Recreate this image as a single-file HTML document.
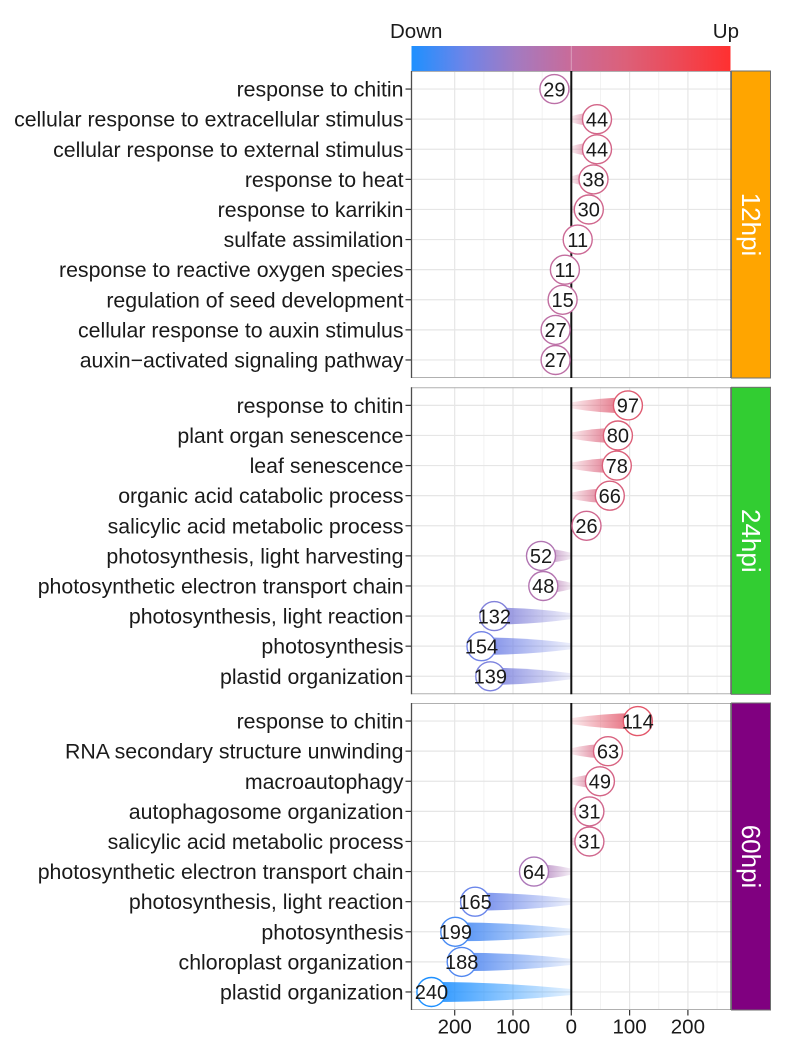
<!DOCTYPE html>
<html><head><meta charset="utf-8"><style>
html,body{margin:0;padding:0;background:#fff}
svg{display:block}
text{font-family:"Liberation Sans",Arial,sans-serif}
.yl{font-size:21.3px;fill:#1a1a1a;text-anchor:end}
.nm{font-size:20px;fill:#1a1a1a;text-anchor:middle}
.tk{font-size:20.5px;fill:#1a1a1a;text-anchor:middle}
.gM{stroke:#e6e6e6;stroke-width:1.2}
.gm{stroke:#efefef;stroke-width:0.8}
</style></head><body>
<svg width="785" height="1046" viewBox="0 0 785 1046" xmlns="http://www.w3.org/2000/svg">
<defs>
<linearGradient id="cb" x1="0" y1="0" x2="1" y2="0">
<stop offset="0" stop-color="#1E90FF"/><stop offset="0.17" stop-color="#6F84E8"/><stop offset="0.33" stop-color="#A47AC0"/><stop offset="0.5" stop-color="#C96B99"/><stop offset="0.67" stop-color="#DC6079"/><stop offset="0.83" stop-color="#EC4A58"/><stop offset="1" stop-color="#FF3030"/>
</linearGradient>
<g id="vgrid">
<line class="gm" x1="483.9" y1="0" x2="483.9" y2="307"/><line class="gm" x1="542.15" y1="0" x2="542.15" y2="307"/><line class="gm" x1="600.45" y1="0" x2="600.45" y2="307"/><line class="gm" x1="658.75" y1="0" x2="658.75" y2="307"/><line class="gm" x1="717.05" y1="0" x2="717.05" y2="307"/>
<line class="gM" x1="454.7" y1="0" x2="454.7" y2="307"/><line class="gM" x1="513" y1="0" x2="513" y2="307"/><line class="gM" x1="629.6" y1="0" x2="629.6" y2="307"/><line class="gM" x1="687.9" y1="0" x2="687.9" y2="307"/>
<line class="gM" x1="411.5" y1="18.06" x2="731" y2="18.06"/><line class="gM" x1="411.5" y1="48.16" x2="731" y2="48.16"/><line class="gM" x1="411.5" y1="78.26" x2="731" y2="78.26"/><line class="gM" x1="411.5" y1="108.36" x2="731" y2="108.36"/><line class="gM" x1="411.5" y1="138.46" x2="731" y2="138.46"/><line class="gM" x1="411.5" y1="168.56" x2="731" y2="168.56"/><line class="gM" x1="411.5" y1="198.66" x2="731" y2="198.66"/><line class="gM" x1="411.5" y1="228.76" x2="731" y2="228.76"/><line class="gM" x1="411.5" y1="258.86" x2="731" y2="258.86"/><line class="gM" x1="411.5" y1="288.96" x2="731" y2="288.96"/>
<line x1="411.5" y1="0.5" x2="731" y2="0.5" stroke="#b0b0b0" stroke-width="1"/>
<line x1="411.5" y1="306.5" x2="731" y2="306.5" stroke="#b0b0b0" stroke-width="1"/>
<line x1="411.5" y1="0" x2="411.5" y2="307" stroke="#4d4d4d" stroke-width="1.3"/>
<line x1="731" y1="0" x2="731" y2="307" stroke="#4d4d4d" stroke-width="1.3"/>
<line x1="405.5" y1="18.06" x2="411" y2="18.06" stroke="#333" stroke-width="1.2"/><line x1="405.5" y1="48.16" x2="411" y2="48.16" stroke="#333" stroke-width="1.2"/><line x1="405.5" y1="78.26" x2="411" y2="78.26" stroke="#333" stroke-width="1.2"/><line x1="405.5" y1="108.36" x2="411" y2="108.36" stroke="#333" stroke-width="1.2"/><line x1="405.5" y1="138.46" x2="411" y2="138.46" stroke="#333" stroke-width="1.2"/><line x1="405.5" y1="168.56" x2="411" y2="168.56" stroke="#333" stroke-width="1.2"/><line x1="405.5" y1="198.66" x2="411" y2="198.66" stroke="#333" stroke-width="1.2"/><line x1="405.5" y1="228.76" x2="411" y2="228.76" stroke="#333" stroke-width="1.2"/><line x1="405.5" y1="258.86" x2="411" y2="258.86" stroke="#333" stroke-width="1.2"/><line x1="405.5" y1="288.96" x2="411" y2="288.96" stroke="#333" stroke-width="1.2"/>
</g>
<linearGradient id="w1" gradientUnits="userSpaceOnUse" x1="571.3" y1="0" x2="554.4" y2="0"><stop offset="0" stop-color="#BC70A7" stop-opacity="0.12"/><stop offset="1" stop-color="#BC70A7" stop-opacity="0.95"/></linearGradient>
<linearGradient id="w2" gradientUnits="userSpaceOnUse" x1="571.3" y1="0" x2="597" y2="0"><stop offset="0" stop-color="#D36588" stop-opacity="0.12"/><stop offset="1" stop-color="#D36588" stop-opacity="0.95"/></linearGradient>
<linearGradient id="w4" gradientUnits="userSpaceOnUse" x1="571.3" y1="0" x2="593.5" y2="0"><stop offset="0" stop-color="#D2668A" stop-opacity="0.12"/><stop offset="1" stop-color="#D2668A" stop-opacity="0.95"/></linearGradient>
<linearGradient id="w5" gradientUnits="userSpaceOnUse" x1="571.3" y1="0" x2="588.8" y2="0"><stop offset="0" stop-color="#D0678D" stop-opacity="0.12"/><stop offset="1" stop-color="#D0678D" stop-opacity="0.95"/></linearGradient>
<linearGradient id="w6" gradientUnits="userSpaceOnUse" x1="571.3" y1="0" x2="577.7" y2="0"><stop offset="0" stop-color="#CC6995" stop-opacity="0.12"/><stop offset="1" stop-color="#CC6995" stop-opacity="0.95"/></linearGradient>
<linearGradient id="w7" gradientUnits="userSpaceOnUse" x1="571.3" y1="0" x2="564.9" y2="0"><stop offset="0" stop-color="#C46D9E" stop-opacity="0.12"/><stop offset="1" stop-color="#C46D9E" stop-opacity="0.95"/></linearGradient>
<linearGradient id="w8" gradientUnits="userSpaceOnUse" x1="571.3" y1="0" x2="562.6" y2="0"><stop offset="0" stop-color="#C26EA0" stop-opacity="0.12"/><stop offset="1" stop-color="#C26EA0" stop-opacity="0.95"/></linearGradient>
<linearGradient id="w9" gradientUnits="userSpaceOnUse" x1="571.3" y1="0" x2="555.6" y2="0"><stop offset="0" stop-color="#BD70A6" stop-opacity="0.12"/><stop offset="1" stop-color="#BD70A6" stop-opacity="0.95"/></linearGradient>
<linearGradient id="v1" gradientUnits="userSpaceOnUse" x1="571.3" y1="0" x2="627.9" y2="0"><stop offset="0" stop-color="#DF5C72" stop-opacity="0.12"/><stop offset="1" stop-color="#DF5C72" stop-opacity="0.95"/></linearGradient>
<linearGradient id="v2" gradientUnits="userSpaceOnUse" x1="571.3" y1="0" x2="617.9" y2="0"><stop offset="0" stop-color="#DC6079" stop-opacity="0.12"/><stop offset="1" stop-color="#DC6079" stop-opacity="0.95"/></linearGradient>
<linearGradient id="v3" gradientUnits="userSpaceOnUse" x1="571.3" y1="0" x2="616.8" y2="0"><stop offset="0" stop-color="#DB607A" stop-opacity="0.12"/><stop offset="1" stop-color="#DB607A" stop-opacity="0.95"/></linearGradient>
<linearGradient id="v4" gradientUnits="userSpaceOnUse" x1="571.3" y1="0" x2="609.8" y2="0"><stop offset="0" stop-color="#D8627F" stop-opacity="0.12"/><stop offset="1" stop-color="#D8627F" stop-opacity="0.95"/></linearGradient>
<linearGradient id="v5" gradientUnits="userSpaceOnUse" x1="571.3" y1="0" x2="586.5" y2="0"><stop offset="0" stop-color="#CF678F" stop-opacity="0.12"/><stop offset="1" stop-color="#CF678F" stop-opacity="0.95"/></linearGradient>
<linearGradient id="v6" gradientUnits="userSpaceOnUse" x1="571.3" y1="0" x2="541" y2="0"><stop offset="0" stop-color="#B175B2" stop-opacity="0.12"/><stop offset="1" stop-color="#B175B2" stop-opacity="0.95"/></linearGradient>
<linearGradient id="v7" gradientUnits="userSpaceOnUse" x1="571.3" y1="0" x2="543.3" y2="0"><stop offset="0" stop-color="#B374B0" stop-opacity="0.12"/><stop offset="1" stop-color="#B374B0" stop-opacity="0.95"/></linearGradient>
<linearGradient id="v8" gradientUnits="userSpaceOnUse" x1="571.3" y1="0" x2="494.3" y2="0"><stop offset="0" stop-color="#8181DA" stop-opacity="0.12"/><stop offset="1" stop-color="#8181DA" stop-opacity="0.95"/></linearGradient>
<linearGradient id="v9" gradientUnits="userSpaceOnUse" x1="571.3" y1="0" x2="481.5" y2="0"><stop offset="0" stop-color="#7283E6" stop-opacity="0.12"/><stop offset="1" stop-color="#7283E6" stop-opacity="0.95"/></linearGradient>
<linearGradient id="v10" gradientUnits="userSpaceOnUse" x1="571.3" y1="0" x2="490.3" y2="0"><stop offset="0" stop-color="#7C82DE" stop-opacity="0.12"/><stop offset="1" stop-color="#7C82DE" stop-opacity="0.95"/></linearGradient>
<linearGradient id="u1" gradientUnits="userSpaceOnUse" x1="571.3" y1="0" x2="637.8" y2="0"><stop offset="0" stop-color="#E3576A" stop-opacity="0.12"/><stop offset="1" stop-color="#E3576A" stop-opacity="0.95"/></linearGradient>
<linearGradient id="u2" gradientUnits="userSpaceOnUse" x1="571.3" y1="0" x2="608" y2="0"><stop offset="0" stop-color="#D86380" stop-opacity="0.12"/><stop offset="1" stop-color="#D86380" stop-opacity="0.95"/></linearGradient>
<linearGradient id="u3" gradientUnits="userSpaceOnUse" x1="571.3" y1="0" x2="599.9" y2="0"><stop offset="0" stop-color="#D46486" stop-opacity="0.12"/><stop offset="1" stop-color="#D46486" stop-opacity="0.95"/></linearGradient>
<linearGradient id="u4" gradientUnits="userSpaceOnUse" x1="571.3" y1="0" x2="589.4" y2="0"><stop offset="0" stop-color="#D0678D" stop-opacity="0.12"/><stop offset="1" stop-color="#D0678D" stop-opacity="0.95"/></linearGradient>
<linearGradient id="u6" gradientUnits="userSpaceOnUse" x1="571.3" y1="0" x2="534" y2="0"><stop offset="0" stop-color="#AC77B8" stop-opacity="0.12"/><stop offset="1" stop-color="#AC77B8" stop-opacity="0.95"/></linearGradient>
<linearGradient id="u7" gradientUnits="userSpaceOnUse" x1="571.3" y1="0" x2="475.1" y2="0"><stop offset="0" stop-color="#6985EA" stop-opacity="0.12"/><stop offset="1" stop-color="#6985EA" stop-opacity="0.95"/></linearGradient>
<linearGradient id="u8" gradientUnits="userSpaceOnUse" x1="571.3" y1="0" x2="455.3" y2="0"><stop offset="0" stop-color="#478AF3" stop-opacity="0.12"/><stop offset="1" stop-color="#478AF3" stop-opacity="0.95"/></linearGradient>
<linearGradient id="u9" gradientUnits="userSpaceOnUse" x1="571.3" y1="0" x2="461.7" y2="0"><stop offset="0" stop-color="#5288F0" stop-opacity="0.12"/><stop offset="1" stop-color="#5288F0" stop-opacity="0.95"/></linearGradient>
<linearGradient id="u10" gradientUnits="userSpaceOnUse" x1="571.3" y1="0" x2="431.4" y2="0"><stop offset="0" stop-color="#1E90FF" stop-opacity="0.12"/><stop offset="1" stop-color="#1E90FF" stop-opacity="0.95"/></linearGradient>
</defs>
<rect width="785" height="1046" fill="#fff"/>

<!-- colorbar -->
<text x="390" y="38" style="font-size:20.5px;fill:#1a1a1a">Down</text>
<text x="739" y="38" style="font-size:20.5px;fill:#1a1a1a;text-anchor:end">Up</text>
<rect x="411.5" y="46" width="319" height="25" fill="url(#cb)"/>
<line x1="571.3" y1="46" x2="571.3" y2="71" stroke="#fff" stroke-opacity="0.35" stroke-width="1"/>

<!-- panel frames/grids -->
<use href="#vgrid" transform="translate(0,71)"/>
<use href="#vgrid" transform="translate(0,387.3)"/>
<use href="#vgrid" transform="translate(0,703)"/>

<!-- strips -->
<rect x="731.5" y="71" width="39" height="307" fill="#FFA500" stroke="#6e6e6e" stroke-width="1"/>
<rect x="731.5" y="387.3" width="39" height="307" fill="#32CD32" stroke="#6e6e6e" stroke-width="1"/>
<rect x="731.5" y="703" width="39" height="307" fill="#800080" stroke="#6e6e6e" stroke-width="1"/>
<text transform="translate(751,224.5) rotate(90)" style="font-size:26px;fill:#fff;text-anchor:middle" y="9">12hpi</text>
<text transform="translate(751,540.8) rotate(90)" style="font-size:26px;fill:#fff;text-anchor:middle" y="9">24hpi</text>
<text transform="translate(751,856.5) rotate(90)" style="font-size:26px;fill:#fff;text-anchor:middle" y="9">60hpi</text>

<!-- Panel 1 -->
<g transform="translate(0,89.1)"><path d="M571.3,-3 Q562.85,-6.6 554.4,-6.6 L554.4,6.6 Q562.85,6.6 571.3,3Z" fill="url(#w1)"/></g>
<g transform="translate(0,119.2)"><path d="M571.3,-3 Q584.15,-7 597,-7 L597,7 Q584.15,7 571.3,3Z" fill="url(#w2)"/></g>
<g transform="translate(0,149.3)"><path d="M571.3,-3 Q584.15,-7 597,-7 L597,7 Q584.15,7 571.3,3Z" fill="url(#w2)"/></g>
<g transform="translate(0,179.4)"><path d="M571.3,-3 Q582.4,-6.9 593.5,-6.9 L593.5,6.9 Q582.4,6.9 571.3,3Z" fill="url(#w4)"/></g>
<g transform="translate(0,209.5)"><path d="M571.3,-3 Q580.05,-6.7 588.8,-6.7 L588.8,6.7 Q580.05,6.7 571.3,3Z" fill="url(#w5)"/></g>
<g transform="translate(0,239.6)"><path d="M571.3,-3 Q574.5,-6.4 577.7,-6.4 L577.7,6.4 Q574.5,6.4 571.3,3Z" fill="url(#w6)"/></g>
<g transform="translate(0,269.7)"><path d="M571.3,-3 Q568.1,-6.4 564.9,-6.4 L564.9,6.4 Q568.1,6.4 571.3,3Z" fill="url(#w7)"/></g>
<g transform="translate(0,299.8)"><path d="M571.3,-3 Q566.95,-6.4 562.6,-6.4 L562.6,6.4 Q566.95,6.4 571.3,3Z" fill="url(#w8)"/></g>
<g transform="translate(0,329.9)"><path d="M571.3,-3 Q563.45,-6.6 555.6,-6.6 L555.6,6.6 Q563.45,6.6 571.3,3Z" fill="url(#w9)"/></g>
<g transform="translate(0,360)"><path d="M571.3,-3 Q563.45,-6.6 555.6,-6.6 L555.6,6.6 Q563.45,6.6 571.3,3Z" fill="url(#w9)"/></g>

<!-- Panel 2 -->
<g transform="translate(0,405.4)"><path d="M571.3,-3 Q599.6,-7.8 627.9,-7.8 L627.9,7.8 Q599.6,7.8 571.3,3Z" fill="url(#v1)"/></g>
<g transform="translate(0,435.5)"><path d="M571.3,-3 Q594.6,-7.5 617.9,-7.5 L617.9,7.5 Q594.6,7.5 571.3,3Z" fill="url(#v2)"/></g>
<g transform="translate(0,465.6)"><path d="M571.3,-3 Q594.05,-7.5 616.8,-7.5 L616.8,7.5 Q594.05,7.5 571.3,3Z" fill="url(#v3)"/></g>
<g transform="translate(0,495.7)"><path d="M571.3,-3 Q590.55,-7.3 609.8,-7.3 L609.8,7.3 Q590.55,7.3 571.3,3Z" fill="url(#v4)"/></g>
<g transform="translate(0,525.8)"><path d="M571.3,-3 Q578.9,-6.6 586.5,-6.6 L586.5,6.6 Q578.9,6.6 571.3,3Z" fill="url(#v5)"/></g>
<g transform="translate(0,555.9)"><path d="M571.3,-3 Q556.15,-7.1 541,-7.1 L541,7.1 Q556.15,7.1 571.3,3Z" fill="url(#v6)"/></g>
<g transform="translate(0,586)"><path d="M571.3,-3 Q557.3,-7 543.3,-7 L543.3,7 Q557.3,7 571.3,3Z" fill="url(#v7)"/></g>
<g transform="translate(0,616.1)"><path d="M571.3,-3 Q532.8,-8.4 494.3,-8.4 L494.3,8.4 Q532.8,8.4 571.3,3Z" fill="url(#v8)"/></g>
<g transform="translate(0,646.2)"><path d="M571.3,-3 Q526.4,-8.7 481.5,-8.7 L481.5,8.7 Q526.4,8.7 571.3,3Z" fill="url(#v9)"/></g>
<g transform="translate(0,676.3)"><path d="M571.3,-3 Q530.8,-8.5 490.3,-8.5 L490.3,8.5 Q530.8,8.5 571.3,3Z" fill="url(#v10)"/></g>

<!-- Panel 3 -->
<g transform="translate(0,721.1)"><path d="M571.3,-3 Q604.55,-8 637.8,-8 L637.8,8 Q604.55,8 571.3,3Z" fill="url(#u1)"/></g>
<g transform="translate(0,751.2)"><path d="M571.3,-3 Q589.65,-7.2 608,-7.2 L608,7.2 Q589.65,7.2 571.3,3Z" fill="url(#u2)"/></g>
<g transform="translate(0,781.3)"><path d="M571.3,-3 Q585.6,-7 599.9,-7 L599.9,7 Q585.6,7 571.3,3Z" fill="url(#u3)"/></g>
<g transform="translate(0,811.4)"><path d="M571.3,-3 Q580.35,-6.8 589.4,-6.8 L589.4,6.8 Q580.35,6.8 571.3,3Z" fill="url(#u4)"/></g>
<g transform="translate(0,841.5)"><path d="M571.3,-3 Q580.35,-6.8 589.4,-6.8 L589.4,6.8 Q580.35,6.8 571.3,3Z" fill="url(#u4)"/></g>
<g transform="translate(0,871.6)"><path d="M571.3,-3 Q552.65,-7.3 534,-7.3 L534,7.3 Q552.65,7.3 571.3,3Z" fill="url(#u6)"/></g>
<g transform="translate(0,901.7)"><path d="M571.3,-3 Q523.2,-8.9 475.1,-8.9 L475.1,8.9 Q523.2,8.9 571.3,3Z" fill="url(#u7)"/></g>
<g transform="translate(0,931.8)"><path d="M571.3,-3 Q513.3,-9.4 455.3,-9.4 L455.3,9.4 Q513.3,9.4 571.3,3Z" fill="url(#u8)"/></g>
<g transform="translate(0,961.9)"><path d="M571.3,-3 Q516.5,-9.2 461.7,-9.2 L461.7,9.2 Q516.5,9.2 571.3,3Z" fill="url(#u9)"/></g>
<g transform="translate(0,992)"><path d="M571.3,-3 Q501.35,-10 431.4,-10 L431.4,10 Q501.35,10 571.3,3Z" fill="url(#u10)"/></g>

<!-- zero lines -->
<line x1="571.3" y1="71" x2="571.3" y2="378" stroke="#111" stroke-width="2"/>
<line x1="571.3" y1="387.3" x2="571.3" y2="694.3" stroke="#111" stroke-width="2"/>
<line x1="571.3" y1="703" x2="571.3" y2="1010" stroke="#111" stroke-width="2"/>

<!-- circles -->
<g fill="#fff" stroke-width="1.4">
<circle cx="554.4" cy="89.1" r="14.5" stroke="#BC70A7"/>
<circle cx="597" cy="119.2" r="14.5" stroke="#D36588"/>
<circle cx="597" cy="149.3" r="14.5" stroke="#D36588"/>
<circle cx="593.5" cy="179.4" r="14.5" stroke="#D2668A"/>
<circle cx="588.8" cy="209.5" r="14.5" stroke="#D0678D"/>
<circle cx="577.7" cy="239.6" r="14.5" stroke="#CC6995"/>
<circle cx="564.9" cy="269.7" r="14.5" stroke="#C46D9E"/>
<circle cx="562.6" cy="299.8" r="14.5" stroke="#C26EA0"/>
<circle cx="555.6" cy="329.9" r="14.5" stroke="#BD70A6"/>
<circle cx="555.6" cy="360" r="14.5" stroke="#BD70A6"/>
<circle cx="627.9" cy="405.4" r="14.5" stroke="#DF5C72"/>
<circle cx="617.9" cy="435.5" r="14.5" stroke="#DC6079"/>
<circle cx="616.8" cy="465.6" r="14.5" stroke="#DB607A"/>
<circle cx="609.8" cy="495.7" r="14.5" stroke="#D8627F"/>
<circle cx="586.5" cy="525.8" r="14.5" stroke="#CF678F"/>
<circle cx="541" cy="555.9" r="14.5" stroke="#B175B2"/>
<circle cx="543.3" cy="586" r="14.5" stroke="#B374B0"/>
<circle cx="494.3" cy="616.1" r="14.5" stroke="#8181DA"/>
<circle cx="481.5" cy="646.2" r="14.5" stroke="#7283E6"/>
<circle cx="490.3" cy="676.3" r="14.5" stroke="#7C82DE"/>
<circle cx="637.8" cy="721.1" r="14.5" stroke="#E3576A"/>
<circle cx="608" cy="751.2" r="14.5" stroke="#D86380"/>
<circle cx="599.9" cy="781.3" r="14.5" stroke="#D46486"/>
<circle cx="589.4" cy="811.4" r="14.5" stroke="#D0678D"/>
<circle cx="589.4" cy="841.5" r="14.5" stroke="#D0678D"/>
<circle cx="534" cy="871.6" r="14.5" stroke="#AC77B8"/>
<circle cx="475.1" cy="901.7" r="14.5" stroke="#6985EA"/>
<circle cx="455.3" cy="931.8" r="14.5" stroke="#478AF3"/>
<circle cx="461.7" cy="961.9" r="14.5" stroke="#5288F0"/>
<circle cx="431.4" cy="992" r="14.5" stroke="#1E90FF"/>
</g>

<!-- numbers -->
<text class="nm" x="554.4" y="96.3">29</text>
<text class="nm" x="597" y="126.4">44</text>
<text class="nm" x="597" y="156.5">44</text>
<text class="nm" x="593.5" y="186.6">38</text>
<text class="nm" x="588.8" y="216.7">30</text>
<text class="nm" x="577.7" y="246.8">11</text>
<text class="nm" x="564.9" y="276.9">11</text>
<text class="nm" x="562.6" y="307">15</text>
<text class="nm" x="555.6" y="337.1">27</text>
<text class="nm" x="555.6" y="367.2">27</text>
<text class="nm" x="627.9" y="412.6">97</text>
<text class="nm" x="617.9" y="442.7">80</text>
<text class="nm" x="616.8" y="472.8">78</text>
<text class="nm" x="609.8" y="502.9">66</text>
<text class="nm" x="586.5" y="533">26</text>
<text class="nm" x="541" y="563.1">52</text>
<text class="nm" x="543.3" y="593.2">48</text>
<text class="nm" x="494.3" y="623.3">132</text>
<text class="nm" x="481.5" y="653.4">154</text>
<text class="nm" x="490.3" y="683.5">139</text>
<text class="nm" x="637.8" y="728.3">114</text>
<text class="nm" x="608" y="758.4">63</text>
<text class="nm" x="599.9" y="788.5">49</text>
<text class="nm" x="589.4" y="818.6">31</text>
<text class="nm" x="589.4" y="848.7">31</text>
<text class="nm" x="534" y="878.8">64</text>
<text class="nm" x="475.1" y="908.9">165</text>
<text class="nm" x="455.3" y="939">199</text>
<text class="nm" x="461.7" y="969.1">188</text>
<text class="nm" x="431.4" y="999.2">240</text>

<!-- y labels -->
<text class="yl" x="403.5" y="96.6">response to chitin</text>
<text class="yl" x="403.5" y="126.7">cellular response to extracellular stimulus</text>
<text class="yl" x="403.5" y="156.8">cellular response to external stimulus</text>
<text class="yl" x="403.5" y="186.9">response to heat</text>
<text class="yl" x="403.5" y="217">response to karrikin</text>
<text class="yl" x="403.5" y="247.1">sulfate assimilation</text>
<text class="yl" x="403.5" y="277.2">response to reactive oxygen species</text>
<text class="yl" x="403.5" y="307.3">regulation of seed development</text>
<text class="yl" x="403.5" y="337.4">cellular response to auxin stimulus</text>
<text class="yl" x="403.5" y="367.5">auxin−activated signaling pathway</text>

<text class="yl" x="403.5" y="412.9">response to chitin</text>
<text class="yl" x="403.5" y="443">plant organ senescence</text>
<text class="yl" x="403.5" y="473.1">leaf senescence</text>
<text class="yl" x="403.5" y="503.2">organic acid catabolic process</text>
<text class="yl" x="403.5" y="533.3">salicylic acid metabolic process</text>
<text class="yl" x="403.5" y="563.4">photosynthesis, light harvesting</text>
<text class="yl" x="403.5" y="593.5">photosynthetic electron transport chain</text>
<text class="yl" x="403.5" y="623.6">photosynthesis, light reaction</text>
<text class="yl" x="403.5" y="653.7">photosynthesis</text>
<text class="yl" x="403.5" y="683.8">plastid organization</text>

<text class="yl" x="403.5" y="728.6">response to chitin</text>
<text class="yl" x="403.5" y="758.7">RNA secondary structure unwinding</text>
<text class="yl" x="403.5" y="788.8">macroautophagy</text>
<text class="yl" x="403.5" y="818.9">autophagosome organization</text>
<text class="yl" x="403.5" y="849">salicylic acid metabolic process</text>
<text class="yl" x="403.5" y="879.1">photosynthetic electron transport chain</text>
<text class="yl" x="403.5" y="909.2">photosynthesis, light reaction</text>
<text class="yl" x="403.5" y="939.3">photosynthesis</text>
<text class="yl" x="403.5" y="969.4">chloroplast organization</text>
<text class="yl" x="403.5" y="999.5">plastid organization</text>

<!-- x axis ticks -->
<g stroke="#333" stroke-width="1.2">
<line x1="454.7" y1="1010" x2="454.7" y2="1015.5"/><line x1="513" y1="1010" x2="513" y2="1015.5"/><line x1="571.3" y1="1010" x2="571.3" y2="1015.5"/><line x1="629.6" y1="1010" x2="629.6" y2="1015.5"/><line x1="687.9" y1="1010" x2="687.9" y2="1015.5"/>
</g>
<text class="tk" x="454.7" y="1033.5">200</text>
<text class="tk" x="513" y="1033.5">100</text>
<text class="tk" x="571.3" y="1033.5">0</text>
<text class="tk" x="629.6" y="1033.5">100</text>
<text class="tk" x="687.9" y="1033.5">200</text>
</svg>
</body></html>
